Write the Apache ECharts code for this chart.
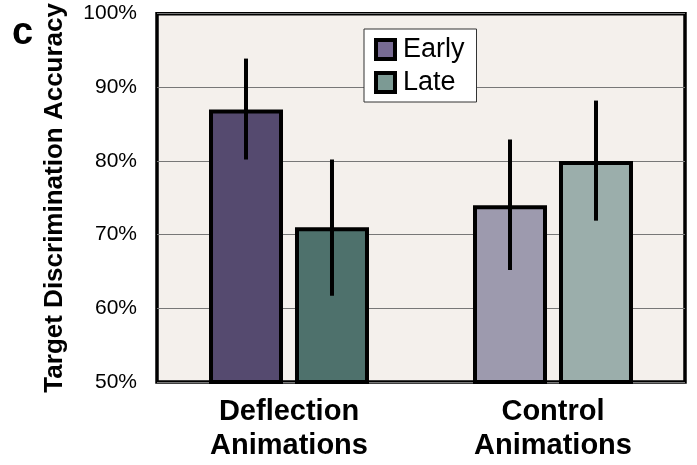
<!DOCTYPE html>
<html>
<head>
<meta charset="utf-8">
<script src="https://cdn.jsdelivr.net/npm/echarts@6/dist/echarts.min.js"></script>
<style>
  html, body { margin: 0; padding: 0; background: #ffffff; }
  #chart { width: 697px; height: 465px; }
</style>
</head>
<body>
<div id="chart"></div>
<script>
// ---- data ----
var categories = ['Deflection\nAnimations', 'Control\nAnimations'];
var seriesNames = ['Early', 'Late'];
var earlyValues = [87, 74];
var lateValues = [71, 80];
var earlyErrLow = [80.2, 65.2];
var earlyErrHigh = [93.9, 82.9];
var lateErrLow = [61.7, 71.9];
var lateErrHigh = [80.2, 88.2];
var yTicks = [50, 60, 70, 80, 90, 100];

// ---- styles ----
var earlyColors = ['#554a6f', '#9d9aae'];
var lateColors = ['#4e716c', '#9baeab'];
var BAR_W = 74;
var BAR_GAP = 0.162;
var FONT = '"Liberation Sans", Arial, Helvetica, sans-serif';

function barData(vals, colors) {
  return vals.map(function (v, i) {
    return { value: v, itemStyle: { color: colors[i] } };
  });
}
function errData(lo, hi) {
  return lo.map(function (l, i) { return [i, l, hi[i]]; });
}
function errRender(sign) {
  return function (params, api) {
    var ci = api.value(0);
    var p1 = api.coord([ci, api.value(1)]);
    var p2 = api.coord([ci, api.value(2)]);
    var off = sign * (BAR_W + BAR_W * BAR_GAP) / 2;
    return {
      type: 'line',
      shape: { x1: p1[0] + off, y1: p1[1], x2: p2[0] + off, y2: p2[1] },
      style: { stroke: '#000', lineWidth: 4 }
    };
  };
}

var chart = echarts.init(document.getElementById('chart'), null, { renderer: 'canvas' });
chart.setOption({
  animation: false,
  backgroundColor: '#ffffff',
  textStyle: { fontFamily: FONT },
  grid: {
    left: 157, right: 12, top: 11, bottom: 83,
    show: true, backgroundColor: '#f4f0ec', borderColor: '#000', borderWidth: 3.5
  },
  graphic: [{
    type: 'text', left: 12, top: 15,
    style: { text: 'c', font: 'bold 38px ' + FONT, fill: '#000' }
  }],
  legend: {
    orient: 'vertical', left: 364, top: 29,
    padding: [7, 12, 6, 10], itemGap: 6,
    itemWidth: 19, itemHeight: 19,
    backgroundColor: '#ffffff', borderColor: '#333', borderWidth: 1,
    textStyle: { fontSize: 27, color: '#000', fontFamily: FONT, padding: [0, 0, 0, 3] },
    data: [
      { name: seriesNames[0], icon: 'rect', itemStyle: { color: '#776b93', borderColor: '#000', borderWidth: 4 } },
      { name: seriesNames[1], icon: 'rect', itemStyle: { color: '#7c9a94', borderColor: '#000', borderWidth: 4 } }
    ]
  },
  xAxis: {
    type: 'category', data: categories,
    axisLine: { show: false }, axisTick: { show: false },
    axisLabel: { fontSize: 29, fontWeight: 'bold', color: '#000', lineHeight: 34, margin: 13, fontFamily: FONT }
  },
  yAxis: {
    type: 'value', min: yTicks[0], max: yTicks[yTicks.length - 1], interval: 10,
    name: 'Target Discrimination Accuracy', nameLocation: 'middle', nameGap: 89,
    nameTextStyle: { fontSize: 26, fontWeight: 'bold', color: '#000', fontFamily: FONT },
    axisLine: { show: false }, axisTick: { show: false },
    axisLabel: { fontSize: 21, color: '#000', margin: 20, formatter: '{value}%', fontFamily: FONT },
    splitLine: { lineStyle: { color: '#777', width: 1 } }
  },
  series: [
    {
      name: seriesNames[0], type: 'bar', barWidth: BAR_W, barGap: (BAR_GAP * 100) + '%',
      data: barData(earlyValues, earlyColors),
      itemStyle: { color: '#776b93', borderColor: '#000', borderWidth: 4 }
    },
    {
      name: seriesNames[1], type: 'bar', barWidth: BAR_W,
      data: barData(lateValues, lateColors),
      itemStyle: { color: '#7c9a94', borderColor: '#000', borderWidth: 4 }
    },
    {
      name: 'EarlyErr', type: 'custom', z: 5, renderItem: errRender(-1),
      encode: { x: 0, y: [1, 2] }, data: errData(earlyErrLow, earlyErrHigh)
    },
    {
      name: 'LateErr', type: 'custom', z: 5, renderItem: errRender(1),
      encode: { x: 0, y: [1, 2] }, data: errData(lateErrLow, lateErrHigh)
    }
  ]
});
</script>
</body>
</html>
